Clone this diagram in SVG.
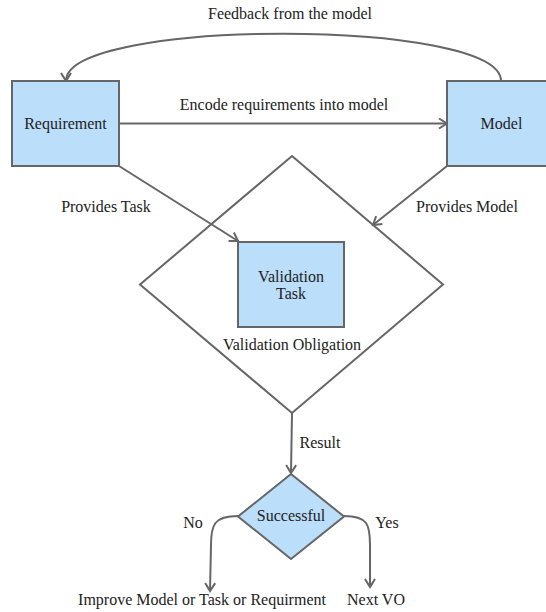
<svg xmlns="http://www.w3.org/2000/svg" width="546" height="612" viewBox="0 0 546 612">
<style>
  .box { fill: #BBDEFB; stroke: #666666; stroke-width: 2; }
  .vo { fill: #FFFFFF; stroke: #666666; stroke-width: 2; }
  .edge { fill: none; stroke: #666666; stroke-width: 2; }
  text { font-family: "Liberation Serif", "Times New Roman", serif; font-size: 16px; fill: #222222; text-anchor: middle; }
</style>
<defs>
  <marker id="arrow" viewBox="-10 -7 12 14" markerWidth="12" markerHeight="14" refX="0" refY="0" orient="auto" markerUnits="userSpaceOnUse">
    <path d="M-8,-5 L0,0 L-8,5" fill="none" stroke="#666666" stroke-width="2"/>
  </marker>
</defs>
<rect width="546" height="612" fill="#FFFFFF"/>
<g id="vo">
  <polygon class="vo" points="292,156 443,284.5 292,413 140,284.5"/>
  <text x="292" y="350">Validation Obligation</text>
</g>
<g id="connectors">
  <path class="edge" d="M501,81 C501,18 66,18 66,81" marker-end="url(#arrow)"/>
  <text x="290" y="19">Feedback from the model</text>
  <path class="edge" d="M119,123.5 L447,123.5" marker-end="url(#arrow)"/>
  <text x="284" y="110">Encode requirements into model</text>
  <path class="edge" d="M119,166 L238,241" marker-end="url(#arrow)"/>
  <text x="106" y="212">Provides Task</text>
  <path class="edge" d="M447,166 L373,225" marker-end="url(#arrow)"/>
  <text x="467" y="212">Provides Model</text>
  <path class="edge" d="M292,413 L291,473" marker-end="url(#arrow)"/>
  <text x="320" y="448">Result</text>
  <path class="edge" d="M238,516 C214,516 211,525 211,545 L210,591" marker-end="url(#arrow)"/>
  <text x="193" y="528">No</text>
  <path class="edge" d="M344,516 C368,516 370,525 370,545 L370,587" marker-end="url(#arrow)"/>
  <text x="387" y="528">Yes</text>
</g>
<g id="requirement">
  <rect class="box" x="12" y="81" width="107" height="85"/>
  <text x="65.5" y="129">Requirement</text>
</g>
<g id="model">
  <rect class="box" x="447" y="81" width="107" height="85"/>
  <text x="501.5" y="129">Model</text>
</g>
<g id="validation-task">
  <rect class="box" x="238" y="242" width="106" height="85"/>
  <text x="291" y="282">Validation</text>
  <text x="291" y="299">Task</text>
</g>
<g id="successful">
  <polygon class="box" points="291,474 344,516.5 291,559 238,516.5"/>
  <text x="291" y="521">Successful</text>
</g>
<g id="improve">
  <text x="202" y="605">Improve Model or Task or Requirment</text>
</g>
<g id="next-vo">
  <text x="376" y="605">Next VO</text>
</g>
</svg>
